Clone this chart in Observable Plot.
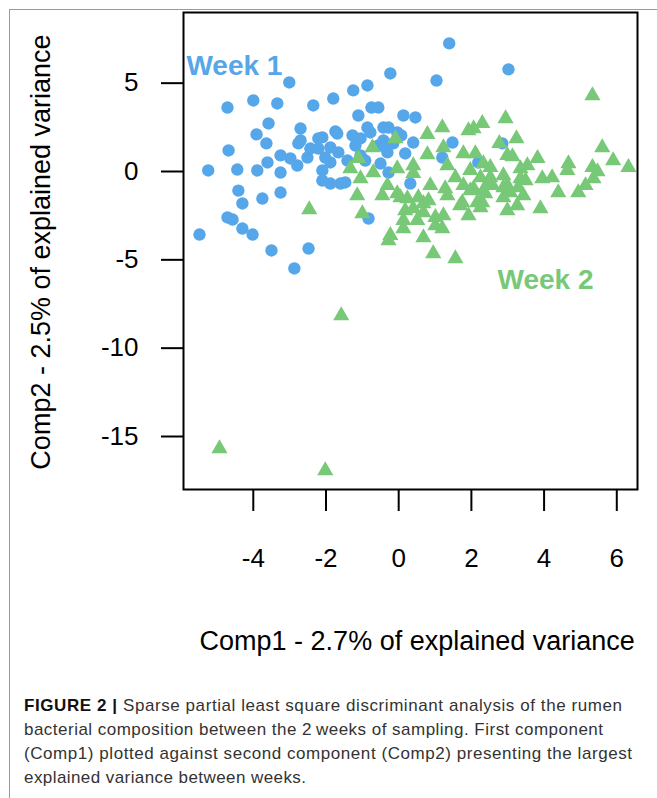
<!DOCTYPE html>
<html>
<head>
<meta charset="utf-8">
<script src="https://cdn.jsdelivr.net/npm/d3@7"></script>
<script src="https://cdn.jsdelivr.net/npm/@observablehq/plot@0.6"></script>
<style>
  html, body { margin: 0; padding: 0; background: #fff; }
  #page { position: relative; width: 657px; height: 798px; overflow: hidden; }
  #chart { position: absolute; left: 0; top: 0; }
  .vline { position: absolute; left: 9px; top: 9px; width: 1px; height: 789px; background: #9a9a9a; }
  .hline { position: absolute; left: 9px; top: 9px; width: 648px; height: 1px; background: #9a9a9a; }
  #caption { position: absolute; left: 24px; top: 694px; font-family: "Liberation Sans", Arial, sans-serif;
    font-size: 17px; line-height: 24px; color: #333; }
  #caption div { white-space: nowrap; display: block; width: max-content; }
  #caption b { font-weight: 700; color: #111; }
</style>
</head>
<body>
<div id="page">
  <div id="chart"></div>
  <div class="vline"></div>
  <div class="hline"></div>
  <div id="caption"></div>
</div>
<script>
// ---- Data ----
const week1X = [1.39, 1.04, -0.23, -3.01, -1.25, -0.86, -1.80, -4.00, -3.34, -2.35, -4.71, -0.75, -0.56, -1.11, 0.13, 0.46,
  -3.58, -3.91, -3.64, -4.68, -2.70, -2.70, -2.10, -1.74, -1.27, -0.86, -0.42, -0.28, -0.04, -1.05, -0.42, -2.76,
  -2.98, -2.79, -2.51, -2.21, -2.21, -1.88, -1.88, -1.69, -1.41, -1.19, -1.05, -0.78, -0.56, -0.31, -0.15, -3.25,
  -3.89, -3.25, -3.61, -2.10, -2.10, -1.88, -1.47, -3.25, -3.75, -0.92, -5.24, -4.44, -4.41, -4.30, -4.71, -4.57,
  -4.30, -4.02, -5.48, -3.50, -2.48, -2.87, 0.07, 0.40, 1.48, 1.20, 0.18, -0.28, 0.32, 2.85, 2.19, -0.37, -0.50,
  -0.83, -1.60, 3.02, -2.43, -1.66, -2.02];
const week1Y = [7.25, 5.15, 5.55, 5.04, 4.59, 4.87, 4.13, 4.02, 3.85, 3.74, 3.62, 3.62, 3.62, 3.17, 3.17, 3.06,
  2.72, 2.10, 1.59, 1.19, 2.43, 1.76, 1.93, 2.27, 2.04, 2.49, 2.49, 2.49, 2.21, 1.87, 1.76, 1.59,
  0.74, 0.34, 0.79, 1.30, 1.87, 1.36, 0.51, 2.15, 0.62, 1.47, 0.91, 2.21, 1.47, 1.08, 1.59, 0.91,
  0.06, -0.06, 0.51, 0.06, -0.51, -0.68, -0.62, -1.19, -1.53, 0.62, 0.06, 0.11, -1.08, -1.81, -2.60, -2.72,
  -3.23, -3.57, -3.57, -4.47, -4.36, -5.49, 2.04, 1.64, 1.64, 0.79, 1.02, -0.06, -0.68, 1.59, 0.51, 1.36, 0.45,
  -2.66, -0.68, 5.78, 1.30, 1.08, 0.79];

const week2X = [5.33, 2.94, 2.30, 1.92, 2.06, 1.20, 0.79, -0.09, -0.72, 1.23, 2.77, 3.24, 0.79, 1.78, 2.11, 2.99,
  3.13, -1.11, -1.33, -0.70, -1.05, -0.04, -0.31, -1.14, -0.04, 0.40, 0.40, 1.34, 2.33, 3.54, 3.82, 4.67,
  4.64, 5.33, 5.47, 5.60, 5.90, 6.32, 1.97, 2.52, 2.88, 3.35, 3.49, 3.95, 4.22, 5.36, 5.14, 4.94,
  4.39, 3.90, 2.99, 3.26, 2.30, 2.38, 1.92, 1.75, 2.99, 3.07, 1.78, 2.06, 2.58, 1.56, 2.25, 3.35,
  0.87, 1.28, 1.97, 2.33, 2.44, 2.88, 3.29, 3.43, -0.45, 0.05, 0.24, 0.54, 0.68, 1.34, 1.69, 2.16,
  2.25, 2.88, 0.18, 0.40, 0.68, 1.01, 1.23, 0.13, 0.51, 0.13, 1.01, 1.20, -0.23, 0.68, -1.00, -0.28,
  0.95, 1.56, -2.46, 0.82, 2.52, -1.58, -4.93, -2.02];
const week2Y = [4.30, 3.00, 2.72, 2.32, 2.43, 2.49, 2.10, 1.87, 1.36, 1.36, 1.59, 1.87, 0.96, 1.02, 1.02, 0.91,
  0.85, 0.74, 0.17, -0.06, -0.40, 0.17, -0.79, -1.36, -1.25, 0.34, -0.11, 0.34, 0.45, 0.34, 0.74, 0.45,
  0.06, 0.23, 0.00, 1.36, 0.62, 0.23, 0.06, 0.23, -0.23, 0.17, -0.51, -0.40, -0.34, -0.40, -0.79, -1.19,
  -1.19, -2.10, -2.21, -1.93, -1.76, -1.25, -2.49, -1.76, -0.79, -1.19, -0.79, -0.96, -0.79, -0.34, -0.34, -0.40,
  -0.79, -0.96, -1.08, -1.08, -0.79, -0.91, -0.91, -1.36, -1.36, -1.47, -1.53, -1.47, -1.81, -1.36, -1.93, -1.76,
  -2.04, -1.47, -2.21, -2.10, -2.32, -2.60, -2.49, -2.77, -2.77, -3.23, -3.06, -3.23, -3.62, -3.74, -2.38, -3.91,
  -4.64, -4.93, -2.15, -1.64, -0.34, -8.15, -15.69, -16.93];

const xTicks = [-4, -2, 0, 2, 4, 6];
const yTicks = [5, 0, -5, -10, -15];
const groupLabels = ["Week 1", "Week 2"];
const labelX = [-4.52, 4.04];
const labelY = [5.44, -6.63];
const xTitle = "Comp1 - 2.7% of explained variance";
const yTitle = "Comp2 - 2.5% of explained variance";
const colors = ["#56a6ea", "#77c877"];

const captionLines = [
  "<b>FIGURE 2</b> <b>|</b> Sparse partial least square discriminant analysis of the rumen",
  "bacterial composition between the 2\u2009weeks of sampling. First component",
  "(Comp1) plotted against second component (Comp2) presenting the largest",
  "explained variance between weeks."
];
const captionWidths = [598, 579, 608, 282];

// ---- Build tables ----
const week1 = week1X.map((x, i) => ({x, y: week1Y[i]}));
const week2 = week2X.map((x, i) => ({x, y: week2Y[i]}));
const labels = groupLabels.map((t, i) => ({t, x: labelX[i], y: labelY[i], c: colors[i]}));
const fmt = d => d < 0 ? "-" + Math.abs(d) : String(d);

const chart = Plot.plot({
  width: 657,
  height: 680,
  marginLeft: 183,
  marginRight: 20,
  marginTop: 12,
  marginBottom: 191,
  style: {fontFamily: "'Liberation Sans', Arial, sans-serif", color: "#000", background: "transparent"},
  x: {domain: [-5.92, 6.57]},
  y: {domain: [-18.0, 9.0]},
  marks: [
    Plot.dot(week1, {x: "x", y: "y", r: 6.2, fill: colors[0], symbol: "circle"}),
    Plot.dot(week2, {x: "x", y: "y", r: 6.0, fill: colors[1], symbol: "triangle"}),
    Plot.frame({stroke: "#000", strokeWidth: 2}),
    Plot.axisX({ticks: xTicks, tickSize: 22, tickPadding: 37, fontSize: 26, strokeWidth: 2, label: null, tickFormat: fmt}),
    Plot.axisY({ticks: yTicks, tickSize: 22, tickPadding: 23, fontSize: 26, strokeWidth: 2, label: null, tickFormat: fmt}),
    Plot.text(labels, {x: "x", y: "y", text: "t", fill: "c", fontSize: 28, fontWeight: "bold", lineAnchor: "bottom", textAnchor: "middle"}),
    Plot.text([xTitle], {text: d => d, frameAnchor: "bottom", textAnchor: "middle", dx: 6.7, dy: 160, fontSize: 27, lineAnchor: "bottom", fill: "#000"}),
    Plot.text([yTitle], {text: d => d, frameAnchor: "left", textAnchor: "middle", dx: -134, dy: 1, rotate: -90, fontSize: 27, lineAnchor: "bottom", fill: "#000"})
  ]
});
document.getElementById("chart").appendChild(chart);

// ---- Caption ----
const cap = document.getElementById("caption");
captionLines.forEach((html, i) => {
  const div = document.createElement("div");
  div.innerHTML = html;
  cap.appendChild(div);
  const w = div.getBoundingClientRect().width;
  const n = div.textContent.length;
  const ls = (captionWidths[i] - w) / Math.max(1, n - 1);
  div.style.letterSpacing = ls.toFixed(3) + "px";
});
</script>
</body>
</html>
